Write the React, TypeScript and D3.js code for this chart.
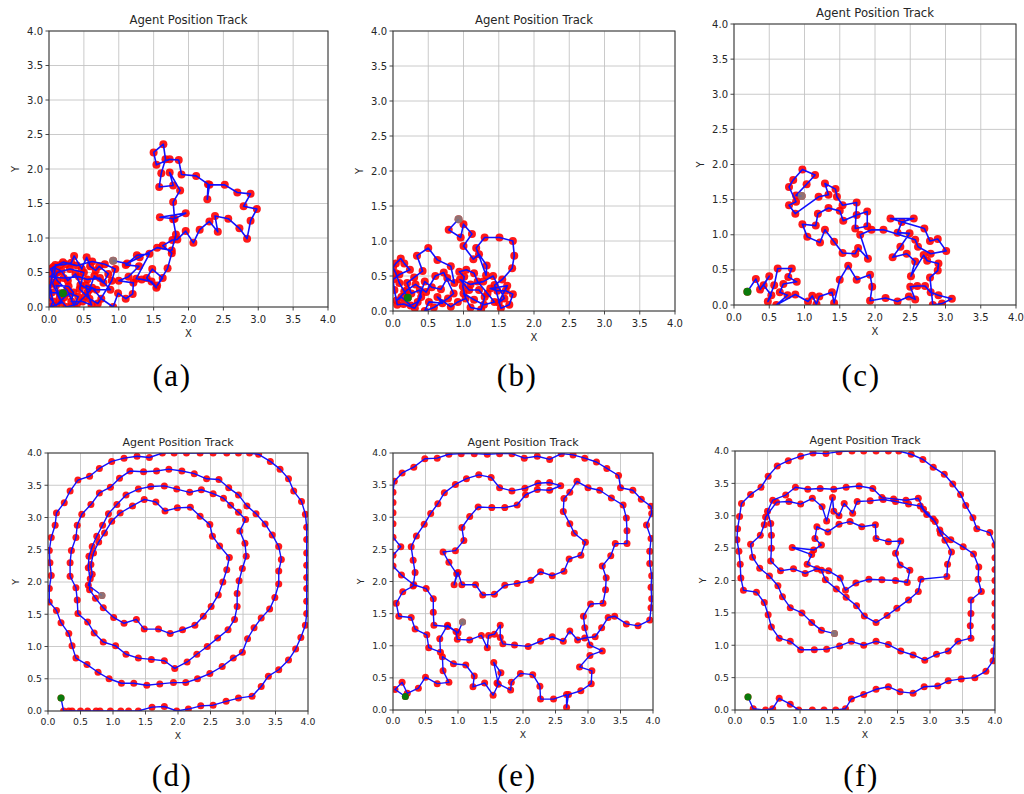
import React from 'react';
import * as d3 from 'd3';

type Pt = [number, number];

// axis ticks shared by all panels
const tickValues = [0, 0.5, 1, 1.5, 2, 2.5, 3, 3.5, 4];
const titleText = 'Agent Position Track';
const subLabels = ['(a)', '(b)', '(c)', '(d)', '(e)', '(f)'];

// (a) random walk
const trackA: Pt[] = [
  [0.2, 0.2], [0.15, 0.2], [0.04, 0.21], [0.0, 0.32], [0.06, 0.08], [0.02, 0.0], [0.18, 0.06], [0.1, 0.31],
  [0.28, 0.3], [0.35, 0.21], [0.32, 0.08], [0.48, 0.08], [0.61, 0.03], [0.55, 0.21], [0.53, 0.31], [0.68, 0.25],
  [0.88, 0.25], [0.73, 0.42], [0.55, 0.4], [0.43, 0.44], [0.21, 0.42], [0.01, 0.44], [0.08, 0.48], [0.09, 0.61],
  [0.16, 0.61], [0.24, 0.62], [0.32, 0.64], [0.36, 0.74], [0.47, 0.55], [0.54, 0.72], [0.59, 0.59], [0.67, 0.53],
  [0.72, 0.59], [0.85, 0.48], [0.78, 0.35], [0.65, 0.45], [0.58, 0.25], [0.45, 0.32], [0.38, 0.48], [0.27, 0.38],
  [0.18, 0.52], [0.06, 0.58], [0.0, 0.15], [0.1, 0.02], [0.22, 0.14], [0.3, 0.2], [0.42, 0.15], [0.36, 0.02],
  [0.26, 0.24], [0.12, 0.38], [0.02, 0.55], [0.2, 0.65], [0.4, 0.6], [0.62, 0.66], [0.8, 0.62], [0.95, 0.55],
  [0.9, 0.38], [0.7, 0.05], [0.58, 0.12], [0.44, 0.26], [0.5, 0.5], [0.3, 0.55], [0.12, 0.5], [0.05, 0.35],
  [0.15, 0.12], [0.25, 0.0], [0.4, 0.04], [0.52, 0.16], [0.62, 0.28], [0.75, 0.12], [0.92, 0.0], [0.99, 0.2],
  [1.1, 0.12], [1.2, 0.19], [1.21, 0.35], [1.0, 0.38], [1.14, 0.44], [1.29, 0.59], [1.1, 0.61], [1.26, 0.75],
  [1.44, 0.77], [1.25, 0.41], [1.33, 0.4], [1.47, 0.37], [1.54, 0.28], [1.4, 0.42], [1.48, 0.55], [1.63, 0.42],
  [1.55, 0.31], [1.7, 0.56], [1.76, 0.78], [1.63, 0.89], [1.77, 0.97], [1.84, 0.98], [1.96, 1.1], [2.07, 0.93],
  [2.16, 1.12], [2.3, 1.24], [2.42, 1.09], [2.38, 1.32], [2.57, 1.28], [2.73, 1.14], [2.84, 0.99], [2.89, 1.25],
  [2.98, 1.42], [2.79, 1.46], [2.89, 1.64], [2.7, 1.66], [2.52, 1.77], [2.3, 1.77], [2.27, 1.56], [2.28, 1.78],
  [2.11, 1.9], [1.9, 1.92], [1.86, 2.13], [1.73, 2.14], [1.54, 2.06], [1.5, 2.24], [1.64, 2.36], [1.67, 2.14],
  [1.61, 1.94], [1.58, 1.74], [1.78, 1.76], [1.73, 1.95], [1.88, 1.69], [1.78, 1.52], [1.8, 1.28], [1.59, 1.3],
  [1.96, 1.36], [1.78, 1.27], [1.82, 1.05], [1.76, 0.82], [1.55, 0.86], [1.3, 0.72], [1.12, 0.63], [0.92, 0.67],
];

// (b) random walk
const trackB: Pt[] = [
  [0.21, 0.19], [0.16, 0.28], [0.09, 0.4], [0.04, 0.54], [0.0, 0.62], [0.04, 0.68], [0.11, 0.75], [0.16, 0.68],
  [0.24, 0.59], [0.09, 0.52], [0.0, 0.45], [0.02, 0.3], [0.06, 0.09], [0.15, 0.1], [0.31, 0.04], [0.4, 0.2],
  [0.38, 0.3], [0.26, 0.25], [0.2, 0.4], [0.3, 0.48], [0.42, 0.57], [0.34, 0.79], [0.5, 0.9], [0.63, 0.73],
  [0.82, 0.64], [0.87, 0.4], [0.77, 0.47], [0.68, 0.31], [0.55, 0.34], [0.45, 0.42], [0.35, 0.13], [0.25, 0.08],
  [0.12, 0.2], [0.05, 0.15], [0.2, 0.3], [0.32, 0.38], [0.47, 0.27], [0.6, 0.5], [0.72, 0.55], [0.86, 0.25],
  [0.78, 0.18], [0.58, 0.05], [0.45, 0.0], [0.51, 0.13], [0.7, 0.11], [0.63, 0.2], [0.82, 0.06], [0.92, 0.13],
  [1.03, 0.18], [0.99, 0.35], [1.01, 0.49], [0.94, 0.56], [1.04, 0.59], [1.15, 0.54], [1.2, 0.42], [1.34, 0.25],
  [1.44, 0.13], [1.29, 0.09], [1.15, 0.16], [1.0, 0.25], [1.1, 0.05], [1.25, 0.02], [1.3, 0.2], [1.22, 0.3],
  [1.08, 0.3], [0.95, 0.45], [1.1, 0.38], [1.28, 0.42], [1.42, 0.5], [1.58, 0.18], [1.5, 0.12], [1.62, 0.36],
  [1.38, 0.32], [1.48, 0.29], [1.6, 0.29], [1.7, 0.24], [1.65, 0.09], [1.53, 0.04], [1.44, 0.37], [1.55, 0.45],
  [1.69, 0.61], [1.72, 0.79], [1.7, 1.0], [1.51, 1.05], [1.3, 1.05], [1.18, 0.9], [1.32, 0.51], [1.33, 0.65],
  [1.22, 0.81], [1.14, 0.74], [1.0, 0.93], [1.12, 1.1], [1.0, 1.24], [0.96, 1.05], [0.79, 1.16], [0.93, 1.31],
];

// (c) random walk
const trackC: Pt[] = [
  [0.19, 0.19], [0.31, 0.37], [0.37, 0.22], [0.5, 0.41], [0.42, 0.28], [0.53, 0.14], [0.48, 0.05], [0.57, 0.28],
  [0.62, 0.52], [0.82, 0.52], [0.77, 0.4], [0.89, 0.33], [0.7, 0.3], [0.65, 0.18], [0.76, 0.14], [0.6, 0.0],
  [0.87, 0.15], [1.05, 0.05], [1.11, 0.13], [1.17, 0.01], [1.21, 0.12], [1.39, 0.18], [1.42, 0.03], [1.5, 0.36],
  [1.62, 0.56], [1.74, 0.36], [1.93, 0.43], [1.96, 0.26], [1.93, 0.06], [2.15, 0.1], [2.32, 0.05], [2.48, 0.12],
  [2.57, 0.08], [2.5, 0.26], [2.6, 0.27], [2.71, 0.27], [2.79, 0.18], [2.9, 0.14], [3.09, 0.09], [2.95, 0.02],
  [2.82, 0.0], [2.78, 0.39], [2.89, 0.49], [2.9, 0.59], [2.74, 0.63], [2.69, 0.71], [2.51, 0.41], [2.57, 0.62],
  [2.45, 0.73], [2.25, 0.68], [2.36, 0.83], [2.49, 1.02], [2.32, 1.03], [2.38, 1.18], [2.55, 1.23], [2.22, 1.23],
  [2.7, 1.09], [2.78, 0.91], [2.89, 0.94], [3.01, 0.77], [2.79, 0.73], [2.61, 0.83], [2.57, 0.93], [2.12, 1.07],
  [1.95, 1.07], [1.79, 1.0], [1.9, 0.66], [1.76, 0.81], [1.72, 0.73], [1.54, 0.74], [1.42, 0.9], [1.29, 1.07],
  [1.22, 0.89], [1.04, 0.97], [0.97, 1.15], [1.16, 1.13], [1.19, 1.3], [1.34, 1.38], [1.5, 1.34], [1.55, 1.2],
  [1.74, 1.28], [1.89, 1.33], [1.89, 1.12], [1.72, 1.09], [1.74, 1.46], [1.54, 1.42], [1.46, 1.54], [1.44, 1.65],
  [1.29, 1.73], [1.34, 1.57], [1.2, 1.54], [0.87, 1.3], [0.78, 1.42], [0.88, 1.47], [0.78, 1.68], [0.84, 1.78],
  [0.97, 1.93], [1.15, 1.85], [1.03, 1.72], [0.88, 1.56], [0.96, 1.55],
];

// (d) spiral sweep
const trackD: Pt[] = [
  [0.2, 0.2], [0.24, 0], [0.32, 0], [0.37, 0], [0.5, 0], [0.61, 0], [0.74, 0], [0.8, 0], [0.96, 0], [1.12, 0],
  [1.24, 0], [1.39, 0], [1.6, 0.06], [1.79, 0.07], [1.98, 0], [2.16, 0.03], [2.35, 0.08], [2.54, 0.09],
  [2.74, 0.15], [2.93, 0.2], [3.14, 0.23], [3.28, 0.38], [3.39, 0.54], [3.55, 0.64], [3.7, 0.79], [3.81, 0.96],
  [3.89, 1.14], [3.96, 1.33], [3.98, 1.51], [3.98, 1.7], [3.98, 1.9], [3.98, 2.07], [3.98, 2.26], [3.98, 2.45],
  [3.98, 2.66], [3.98, 2.85], [3.96, 3.05], [3.9, 3.25], [3.78, 3.41], [3.7, 3.6], [3.57, 3.75], [3.42, 3.87],
  [3.24, 3.98], [3.1, 4], [2.93, 4], [2.75, 4], [2.54, 4], [2.34, 4], [2.13, 4], [1.94, 4], [1.76, 4],
  [1.56, 3.93], [1.37, 3.95], [1.17, 3.92], [0.98, 3.87], [0.79, 3.76], [0.64, 3.64], [0.46, 3.58], [0.34, 3.41],
  [0.25, 3.23], [0.13, 3.07], [0.11, 2.88], [0.05, 2.69], [0.02, 2.49], [0.03, 2.3], [0.05, 2.1], [0.02, 1.9],
  [0.02, 1.69], [0.13, 1.56], [0.2, 1.37], [0.32, 1.2], [0.37, 1.01], [0.43, 0.82], [0.6, 0.72], [0.77, 0.6],
  [0.94, 0.5], [1.13, 0.43], [1.32, 0.43], [1.52, 0.4], [1.72, 0.42], [1.93, 0.44], [2.12, 0.44], [2.3, 0.5],
  [2.49, 0.58], [2.68, 0.69], [2.85, 0.82], [2.99, 0.91], [3.07, 1.12], [3.17, 1.29], [3.28, 1.44], [3.41, 1.58],
  [3.49, 1.76], [3.55, 1.97], [3.55, 2.17], [3.59, 2.35], [3.55, 2.55], [3.45, 2.73], [3.34, 2.9], [3.2, 3.06],
  [3.06, 3.18], [2.93, 3.35], [2.78, 3.46], [2.63, 3.59], [2.44, 3.6], [2.25, 3.68], [2.06, 3.72], [1.86, 3.75],
  [1.67, 3.72], [1.47, 3.71], [1.26, 3.72], [1.1, 3.61], [0.96, 3.47], [0.79, 3.38], [0.66, 3.2], [0.52, 3.05],
  [0.45, 2.88], [0.43, 2.69], [0.36, 2.49], [0.34, 2.3], [0.34, 2.09], [0.43, 1.91], [0.45, 1.72], [0.46, 1.51],
  [0.61, 1.38], [0.71, 1.21], [0.85, 1.07], [1.04, 1.01], [1.2, 0.88], [1.39, 0.82], [1.59, 0.8], [1.79, 0.78],
  [1.95, 0.66], [2.14, 0.76], [2.29, 0.88], [2.45, 1.0], [2.61, 1.13], [2.77, 1.26], [2.87, 1.42], [2.91, 1.62],
  [2.91, 1.82], [2.94, 2.02], [2.99, 2.21], [3.05, 2.4], [3.03, 2.6], [2.95, 2.79], [3.04, 2.97], [2.93, 3.08],
  [2.81, 3.19], [2.7, 3.3], [2.54, 3.37], [2.36, 3.43], [2.18, 3.39], [1.98, 3.44], [1.79, 3.49], [1.58, 3.48],
  [1.39, 3.44], [1.2, 3.35], [1.06, 3.2], [0.93, 3.06], [0.84, 2.88], [0.75, 2.71], [0.68, 2.55], [0.63, 2.4],
  [0.62, 2.22], [0.65, 2.05], [0.64, 1.88], [0.73, 1.75], [0.85, 1.6], [1.01, 1.45], [1.17, 1.36], [1.36, 1.42],
  [1.48, 1.27], [1.7, 1.27], [1.88, 1.2], [2.07, 1.26], [2.26, 1.33], [2.39, 1.47], [2.51, 1.62], [2.62, 1.8],
  [2.69, 2.0], [2.75, 2.19], [2.79, 2.38], [2.64, 2.56], [2.53, 2.71], [2.49, 2.89], [2.34, 3.02], [2.19, 3.16],
  [1.99, 3.15], [1.8, 3.1], [1.66, 3.24], [1.48, 3.28], [1.3, 3.18], [1.11, 3.07], [0.98, 2.94], [0.87, 2.76],
  [0.78, 2.62], [0.7, 2.45], [0.66, 2.27], [0.68, 2.12], [0.62, 1.95], [0.83, 1.79],
];

// (e) irregular sweep
const trackE: Pt[] = [
  [0.19, 0.21], [0.03, 0.32], [0.14, 0.43], [0.22, 0.26], [0.39, 0.34], [0.5, 0.51], [0.68, 0.41], [0.86, 0.43],
  [0.77, 0.61], [0.76, 0.83], [0.93, 0.72], [1.12, 0.7], [1.25, 0.53], [1.23, 0.36], [1.41, 0.42], [1.54, 0.23],
  [1.62, 0.4], [1.55, 0.74], [1.66, 0.58], [1.6, 0.42], [1.81, 0.31], [1.82, 0.43], [1.96, 0.57], [2.15, 0.55],
  [2.26, 0.37], [2.27, 0.17], [2.47, 0.17], [2.67, 0.24], [2.67, 0.04], [2.7, 0.24], [2.89, 0.3], [3.05, 0.41],
  [3.06, 0.61], [2.87, 0.67], [3.03, 0.85], [3.22, 0.92], [3.03, 1.01], [2.95, 1.28], [2.93, 1.46], [3.04, 1.65],
  [3.23, 1.66], [3.27, 1.87], [3.28, 2.06], [3.22, 2.24], [3.35, 2.4], [3.42, 2.59], [3.6, 2.59], [3.6, 2.79],
  [3.59, 2.99], [3.54, 3.19], [3.36, 3.3], [3.18, 3.42], [3.0, 3.46], [2.83, 3.56], [2.72, 3.39], [2.63, 3.29],
  [2.62, 3.09], [2.72, 2.9], [2.79, 2.75], [2.96, 2.61], [2.89, 2.41], [2.71, 2.35], [2.63, 2.16], [2.45, 2.09],
  [2.27, 2.15], [2.12, 2.02], [1.91, 1.97], [1.72, 1.94], [1.56, 1.8], [1.38, 1.79], [1.27, 1.95], [1.06, 1.95],
  [1.0, 2.14], [0.94, 1.95], [0.98, 2.12], [0.86, 2.3], [0.77, 2.46], [0.96, 2.48], [1.09, 2.64], [1.06, 2.84],
  [1.18, 3.01], [1.31, 3.16], [1.52, 3.15], [1.72, 3.15], [1.91, 3.19], [2.04, 3.35], [2.22, 3.43], [2.41, 3.42],
  [2.58, 3.49], [2.41, 3.54], [2.23, 3.53], [2.03, 3.45], [1.83, 3.41], [1.64, 3.46], [1.51, 3.62], [1.32, 3.66],
  [1.13, 3.6], [0.96, 3.51], [0.79, 3.38], [0.69, 3.21], [0.58, 3.06], [0.48, 2.89], [0.36, 2.71], [0.28, 2.54],
  [0.31, 2.33], [0.34, 2.14], [0.31, 1.93], [0.15, 1.84], [0.05, 1.66], [0.09, 1.46], [0.28, 1.44], [0.34, 1.26],
  [0.52, 1.17], [0.55, 0.97], [0.73, 0.9], [0.72, 1.11], [0.84, 1.32], [0.97, 1.22], [0.99, 1.1], [1.18, 1.09],
  [1.36, 1.16], [1.45, 0.97], [1.47, 1.16], [1.56, 1.18], [1.65, 1.32], [1.65, 1.13], [1.69, 1.03], [1.87, 1.01],
  [2.08, 0.99], [2.27, 1.07], [2.45, 1.14], [2.62, 1.07], [2.72, 1.23], [2.84, 1.09], [2.95, 1.12], [3.11, 1.14],
  [3.21, 1.28], [3.31, 1.44], [3.41, 1.46], [3.59, 1.34], [3.77, 1.31], [3.95, 1.4], [3.97, 1.59], [3.98, 1.73],
  [3.97, 1.91], [3.98, 2.09], [3.95, 2.28], [3.95, 2.47], [3.97, 2.67], [3.9, 2.88], [3.98, 3.06], [3.97, 3.17],
  [3.82, 3.28], [3.69, 3.42], [3.5, 3.46], [3.47, 3.65], [3.29, 3.76], [3.13, 3.86], [2.95, 3.92], [2.77, 3.97],
  [2.59, 3.99], [2.41, 3.9], [2.22, 3.95], [2.02, 3.92], [1.83, 3.99], [1.64, 3.99], [1.45, 3.98], [1.25, 3.99],
  [1.05, 3.99], [0.86, 3.98], [0.68, 3.92], [0.49, 3.91], [0.32, 3.78], [0.14, 3.69], [0.02, 3.56], [0.0, 3.39],
  [0.0, 3.23], [0.0, 3.07], [0.0, 2.9], [0.0, 2.69], [0.12, 2.54], [0.0, 2.41], [0.0, 2.24], [0.13, 2.1],
  [0.32, 1.95], [0.51, 1.89], [0.62, 1.73], [0.62, 1.52], [0.63, 1.32], [0.84, 1.3], [1.0, 1.2], [1.07, 1.37],
];

// (f) inward spiral
const trackF: Pt[] = [
  [0.2, 0.2], [0.28, 0.02], [0.47, 0], [0.58, 0.02], [0.68, 0.18], [0.85, 0.09], [0.98, 0], [1.19, 0],
  [1.37, 0], [1.55, 0], [1.7, 0.02], [1.79, 0.17], [1.98, 0.24], [2.17, 0.32], [2.36, 0.36], [2.54, 0.28],
  [2.74, 0.26], [2.91, 0.36], [3.12, 0.37], [3.28, 0.45], [3.48, 0.48], [3.69, 0.5], [3.86, 0.6], [3.97, 0.76],
  [3.98, 0.91], [4, 1.11], [4, 1.28], [4, 1.46], [4, 1.65], [4, 1.83], [4, 2.0], [4, 2.17], [4, 2.35],
  [4, 2.55], [3.92, 2.74], [3.72, 2.8], [3.66, 2.97], [3.55, 3.16], [3.47, 3.33], [3.35, 3.49], [3.22, 3.64],
  [3.05, 3.75], [2.89, 3.87], [2.71, 3.95], [2.52, 4], [2.36, 4], [2.17, 4], [1.98, 4], [1.8, 4], [1.6, 3.99],
  [1.4, 3.96], [1.2, 3.97], [1.01, 3.92], [0.82, 3.85], [0.65, 3.77], [0.51, 3.61], [0.4, 3.44], [0.24, 3.33],
  [0.1, 3.19], [0.07, 2.99], [0.04, 2.8], [0.03, 2.63], [0.06, 2.45], [0.08, 2.25], [0.09, 2.04], [0.13, 1.85],
  [0.33, 1.82], [0.45, 1.66], [0.51, 1.47], [0.56, 1.28], [0.68, 1.11], [0.85, 1.06], [1.01, 0.93], [1.22, 0.93],
  [1.41, 0.94], [1.61, 0.99], [1.79, 1.06], [1.98, 1.0], [2.17, 1.06], [2.36, 1.01], [2.55, 0.91], [2.74, 0.85],
  [2.92, 0.77], [3.1, 0.86], [3.28, 0.91], [3.43, 1.06], [3.63, 1.11], [3.62, 1.3], [3.63, 1.49], [3.63, 1.7],
  [3.79, 1.83], [3.74, 2.02], [3.75, 2.21], [3.67, 2.41], [3.51, 2.52], [3.32, 2.63], [3.15, 2.78], [3.05, 2.95],
  [2.9, 3.1], [2.82, 3.27], [2.63, 3.24], [2.44, 3.26], [2.26, 3.28], [2.12, 3.42], [1.91, 3.46], [1.71, 3.44],
  [1.52, 3.41], [1.31, 3.42], [1.12, 3.41], [0.93, 3.44], [0.78, 3.32], [0.58, 3.24], [0.5, 3.07], [0.55, 2.88],
  [0.56, 2.7], [0.56, 2.5], [0.55, 2.3], [0.7, 2.15], [0.9, 2.18], [1.08, 2.11], [1.26, 2.18], [1.44, 2.15],
  [1.62, 2.04], [1.7, 1.85], [1.86, 1.96], [2.06, 2.02], [2.26, 2.01], [2.47, 2.0], [2.65, 1.97], [2.69, 2.16],
  [2.54, 2.24], [2.47, 2.42], [2.55, 2.61], [2.36, 2.6], [2.17, 2.65], [2.16, 2.86], [1.95, 2.83], [1.77, 2.91],
  [1.6, 2.87], [1.43, 2.75], [1.26, 2.83], [1.23, 2.65], [1.33, 2.55], [1.21, 2.47], [0.88, 2.51], [1.18, 2.4],
  [1.11, 2.25], [1.33, 2.16], [1.39, 2.01], [1.56, 1.87], [1.71, 1.74], [1.87, 1.61], [1.99, 1.45], [2.17, 1.35],
  [2.34, 1.46], [2.49, 1.57], [2.67, 1.7], [2.82, 1.83], [2.86, 2.02], [3.26, 2.06], [3.27, 2.25], [3.33, 2.44],
  [3.23, 2.62], [3.16, 2.73], [3.08, 2.91], [2.95, 3.02], [2.85, 3.15], [2.67, 3.18], [2.47, 3.22], [2.28, 3.25],
  [2.08, 3.23], [1.88, 3.22], [1.81, 3.04], [1.68, 3.19], [1.6, 3.0], [1.52, 3.07], [1.5, 3.28], [1.41, 2.92],
  [1.34, 3.14], [1.19, 3.27], [1.01, 3.18], [0.83, 3.22], [0.64, 3.21], [0.47, 2.98], [0.45, 2.86], [0.39, 2.7],
  [0.24, 2.56], [0.27, 2.36], [0.38, 2.19], [0.53, 2.07], [0.66, 1.92], [0.73, 1.75], [0.85, 1.58], [1.03, 1.5],
  [1.18, 1.35], [1.33, 1.23], [1.53, 1.18],
];

const tracks = [trackA, trackB, trackC, trackD, trackE, trackF];

// layout of each subplot on the page
const layout = [
  { left: 49, top: 31, w: 279, h: 276, lx: 172, ly: 386, big: true },
  { left: 393, top: 31, w: 282, h: 280, lx: 517, ly: 386, big: true },
  { left: 734, top: 24, w: 282, h: 281, lx: 861, ly: 386, big: true },
  { left: 48, top: 453, w: 260, h: 258, lx: 172, ly: 786, big: false },
  { left: 393, top: 453, w: 260, h: 257, lx: 517, ly: 786, big: false },
  { left: 735, top: 451, w: 260, h: 259, lx: 861, ly: 786, big: false },
];

const fmt = d3.format('.1f');

function Panel({ idx }: { idx: number }) {
  const L = layout[idx];
  const data = tracks[idx];
  const x = d3.scaleLinear().domain([0, 4]).range([L.left, L.left + L.w]);
  const y = d3.scaleLinear().domain([0, 4]).range([L.top + L.h, L.top]);
  const line = d3.line<Pt>().x(d => x(d[0])).y(d => y(d[1]));
  const tickFs = L.big ? 10 : 9.3;
  const titleFs = L.big ? 11.7 : 11;
  const r = L.big ? 4 : 3.5;
  const clipId = `clip${idx}`;
  const start = data[0];
  const end = data[data.length - 1];
  const bottom = L.top + L.h;

  return (
    <g fontFamily="DejaVu Sans" fill="#262626">
      <defs>
        <clipPath id={clipId}>
          <rect x={L.left} y={L.top} width={L.w} height={L.h} />
        </clipPath>
      </defs>
      <rect x={L.left} y={L.top} width={L.w} height={L.h} fill="#fff" />
      {tickValues.map(t => (
        <g key={t}>
          <line x1={x(t)} x2={x(t)} y1={L.top} y2={bottom} stroke="#c4c4c4" strokeWidth={0.9} />
          <line x1={L.left} x2={L.left + L.w} y1={y(t)} y2={y(t)} stroke="#c4c4c4" strokeWidth={0.9} />
        </g>
      ))}
      <g clipPath={`url(#${clipId})`}>
        {data.map((d, i) => (
          <circle key={i} cx={x(d[0])} cy={y(d[1])} r={r} fill="#ff0000" opacity={0.9} />
        ))}
        <path d={line(data) || ''} fill="none" stroke="#1010ff" strokeWidth={L.big ? 1.6 : 1.4} strokeLinejoin="round" />
        <circle cx={x(start[0])} cy={y(start[1])} r={r} fill="#0b7a0b" />
        <circle cx={x(end[0])} cy={y(end[1])} r={r} fill="#808080" opacity={0.85} />
      </g>
      <rect x={L.left} y={L.top} width={L.w} height={L.h} fill="none" stroke="#333" strokeWidth={1} />
      {tickValues.map(t => (
        <g key={'t' + t}>
          <line x1={x(t)} x2={x(t)} y1={bottom} y2={bottom + 3.5} stroke="#333" strokeWidth={0.9} />
          <text x={x(t)} y={bottom + (L.big ? 15.5 : 13.5)} fontSize={tickFs} textAnchor="middle">{fmt(t)}</text>
          <line x1={L.left - 3.5} x2={L.left} y1={y(t)} y2={y(t)} stroke="#333" strokeWidth={0.9} />
          <text x={L.left - 6} y={y(t)} dy="0.35em" fontSize={tickFs} textAnchor="end">{fmt(t)}</text>
        </g>
      ))}
      <text x={L.left + L.w / 2} y={L.top - 7} fontSize={titleFs} textAnchor="middle">{titleText}</text>
      <text x={L.left + L.w / 2} y={bottom + (L.big ? 30 : 27.5)} fontSize={tickFs} textAnchor="middle">X</text>
      <text transform={`translate(${L.left - (L.big ? 34 : 32)},${L.top + L.h / 2}) rotate(-90)`} fontSize={tickFs} textAnchor="middle" dy="0.35em">Y</text>
      <text x={L.lx} y={L.ly} fontSize={31} fontFamily="Liberation Serif" fill="#000" textAnchor="middle" letterSpacing={1.5}>{subLabels[idx]}</text>
    </g>
  );
}

export default function App() {
  return (
    <svg width={1024} height={794} style={{ position: 'absolute', left: 0, top: 0, background: '#fff' }}>
      <rect width={1024} height={794} fill="#fff" />
      {layout.map((_, i) => <Panel key={i} idx={i} />)}
    </svg>
  );
}
